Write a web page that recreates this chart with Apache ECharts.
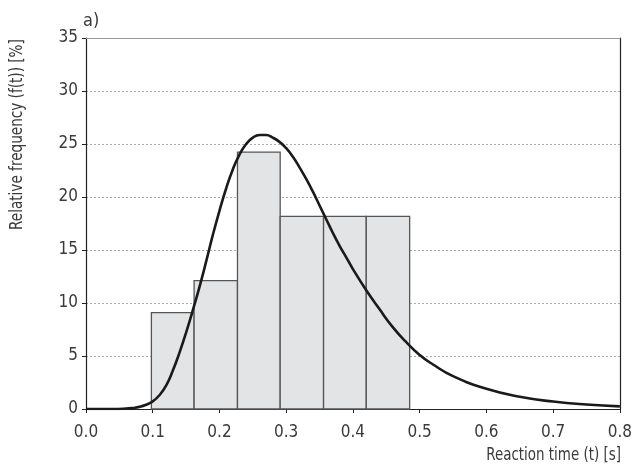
<!DOCTYPE html>
<html>
<head>
<meta charset="utf-8">
<script src="https://cdn.jsdelivr.net/npm/echarts@6/dist/echarts.min.js"></script>
<style>html,body{margin:0;padding:0;background:#fff}#c{width:635px;height:474px}</style>
</head>
<body>
<div id="c"></div>
<script>
// Histogram bins (reaction time, s) and relative frequency (%)
var binStart = [0.098, 0.162, 0.227, 0.291, 0.356, 0.420];
var binEnd   = [0.162, 0.227, 0.291, 0.356, 0.420, 0.485];
var freq     = [9.09, 12.12, 24.24, 18.18, 18.18, 18.18];

// Fitted density curve
var curveT = [0.00, 0.04, 0.06, 0.07, 0.08, 0.09, 0.10, 0.11, 0.12, 0.13, 0.14, 0.15, 0.16, 0.17, 0.18, 0.19, 0.20, 0.21, 0.22, 0.23, 0.24, 0.25, 0.26, 0.27, 0.28, 0.29, 0.30, 0.31, 0.32, 0.33, 0.34, 0.35, 0.36, 0.37, 0.38, 0.39, 0.40, 0.42, 0.44, 0.46, 0.48, 0.50, 0.52, 0.55, 0.60, 0.65, 0.70, 0.75, 0.80];
var curveF = [0.00, 0.00, 0.04, 0.10, 0.20, 0.40, 0.72, 1.3, 2.2, 3.6, 5.3, 7.2, 9.3, 11.5, 13.9, 16.4, 18.7, 20.8, 22.6, 24.0, 25.0, 25.6, 25.85, 25.85, 25.6, 25.2, 24.6, 23.8, 22.8, 21.7, 20.5, 19.2, 17.9, 16.6, 15.4, 14.3, 13.2, 11.2, 9.4, 7.7, 6.3, 5.1, 4.2, 3.1, 1.9, 1.15, 0.7, 0.42, 0.25];

// Axis ticks
var xTicks = [0.0, 0.1, 0.2, 0.3, 0.4, 0.5, 0.6, 0.7, 0.8];
var yTicks = [0, 5, 10, 15, 20, 25, 30, 35];

var FONT = '"DejaVu Sans Condensed", "Liberation Sans Narrow", sans-serif';
var TXT = '#3a3a3a';

var chart = echarts.init(document.getElementById('c'), null, {renderer: 'canvas'});

var bars = binStart.map(function (s, i) { return [s, binEnd[i], freq[i]]; });
var curve = curveT.map(function (t, i) { return [t, curveF[i]]; });

chart.setOption({
  animation: false,
  grid: {left: 86, right: 13, top: 38, bottom: 65},
  graphic: [
    {type: 'text', x: 83, y: 12, style: {text: 'a)', font: '18px ' + FONT, fill: TXT}},
    {type: 'text', x: 621, y: 446, scaleX: 0.83, style: {text: 'Reaction time (t) [s]', font: '18px ' + FONT, fill: TXT, textAlign: 'right', textVerticalAlign: 'top'}},
    {type: 'text', x: 8, y: 230, rotation: Math.PI / 2, scaleX: 0.84, style: {text: 'Relative frequency (f(t)) [%]', font: '18px ' + FONT, fill: TXT, textAlign: 'left', textVerticalAlign: 'top'}}
  ],
  xAxis: [{
    type: 'value', min: 0, max: 0.8, interval: 0.1,
    axisLine: {show: true, lineStyle: {color: '#222', width: 1.2}},
    axisTick: {show: true, length: 4, lineStyle: {color: '#222'}},
    axisLabel: {color: TXT, fontFamily: FONT, fontSize: 17, margin: 15,
      formatter: function (v) { return v.toFixed(1); }},
    splitLine: {show: false}
  }, {
    type: 'value', position: 'top', min: 0, max: 0.8,
    axisLine: {show: true, onZero: false, lineStyle: {color: '#999', width: 1.2}},
    axisTick: {show: false}, axisLabel: {show: false}, splitLine: {show: false}
  }],
  yAxis: [{
    type: 'value', min: 0, max: 35, interval: 5,
    axisLine: {show: true, lineStyle: {color: '#222', width: 1.2}},
    axisTick: {show: true, length: 4, lineStyle: {color: '#222'}},
    axisLabel: {color: TXT, fontFamily: FONT, fontSize: 17, margin: 8},
    splitLine: {show: true, lineStyle: {color: '#aaa', type: [2, 2], width: 1}}
  }, {
    type: 'value', position: 'right', min: 0, max: 35,
    axisLine: {show: true, onZero: false, lineStyle: {color: '#222', width: 1.2}},
    axisTick: {show: false}, axisLabel: {show: false}, splitLine: {show: false}
  }],
  series: [{
    type: 'custom',
    xAxisIndex: 0, yAxisIndex: 0,
    data: bars,
    encode: {x: [0, 1], y: 2},
    renderItem: function (params, api) {
      var p0 = api.coord([api.value(0), 0]);
      var p1 = api.coord([api.value(1), api.value(2)]);
      return {
        type: 'rect',
        shape: {x: p0[0], y: p1[1], width: p1[0] - p0[0], height: p0[1] - p1[1]},
        style: {fill: '#e3e4e6', stroke: '#555', lineWidth: 1.3}
      };
    },
    z: 2
  }, {
    type: 'line',
    xAxisIndex: 0, yAxisIndex: 0,
    data: curve,
    smooth: 0.5,
    showSymbol: false,
    lineStyle: {color: '#1a1a1a', width: 2.6},
    z: 3
  }]
});
</script>
</body>
</html>
